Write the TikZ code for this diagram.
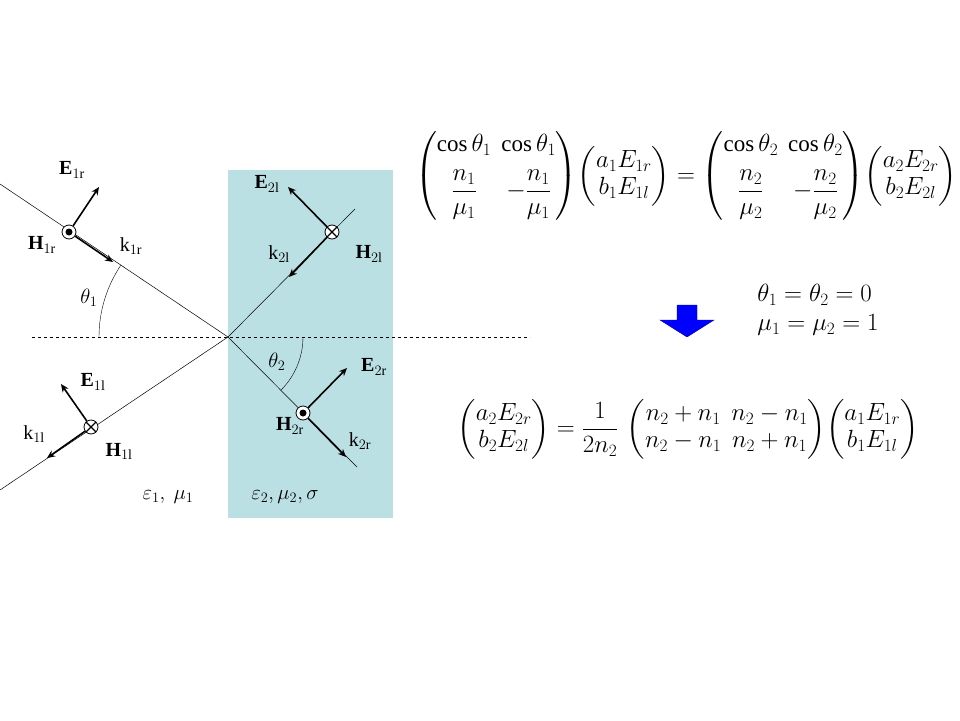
\documentclass[tikz,border=0pt]{standalone}
\usepackage{amsmath}
\usepackage{fontspec}
\setmainfont{Liberation Serif}
\usetikzlibrary{arrows.meta}
\definecolor{slab}{RGB}{187,224,228}
\tikzset{
  ray/.style={black,line width=0.5pt},
  vec/.style={black,line width=1.6pt,-{Stealth[length=8pt,width=7pt]}},
  fld/.style={draw,circle,fill=white,line width=0.8pt,minimum size=14pt,inner sep=0pt},
  lbl/.style={font=\fontsize{20}{24}\selectfont},
  eqn/.style={font=\fontsize{23}{27}\selectfont}
}
\begin{document}
\begin{tikzpicture}[x=1pt,y=-1pt]
            \useasboundingbox (0,0) rectangle (960,720);
            \fill[slab] (228,170) rectangle (393,518);
            \coordinate (O) at (228,337);
            \draw[dashed] (32,337) -- (530,337);
            % rays
            \draw[ray] (0,184) -- (O) -- (357,467);
            \draw[ray] (0,490) -- (O) -- (355,209);
            % field markers
            \node[fld] (H1r) at (69,232) {};
            \fill (H1r) circle (3.5);
            \node[fld] (H2r) at (303,413) {};
            \fill (H2r) circle (3.5);
            \node[fld] (H2l) at (332,232) {};
            \draw[line width=1.2pt] (H2l.north west) -- (H2l.south east) (H2l.north east) -- (H2l.south west);
            \node[fld] (H1l) at (91,427) {};
            \draw[line width=1.2pt] (H1l.north west) -- (H1l.south east) (H1l.north east) -- (H1l.south west);
            \coordinate (E1r) at (99,187);
            \coordinate (k1r) at (113,262);
            \coordinate (E2l) at (288,187);
            \coordinate (k2l) at (289,277);
            \coordinate (E1l) at (61,384);
            \coordinate (k1l) at (47,458);
            \coordinate (E2r) at (347,368);
            \coordinate (k2r) at (346,457);
            \draw[vec] (H1r) -- (E1r);
            \draw[vec] (H1r) -- (k1r);
            \draw[vec] (H2l) -- (E2l);
            \draw[vec] (H2l) -- (k2l);
            \draw[vec] (H1l) -- (E1l);
            \draw[vec] (H1l) -- (k1l);
            \draw[vec] (H2r) -- (E2r);
            \draw[vec] (H2r) -- (k2r);
            % angles
            \draw (99,337) arc[start angle=180,end angle=213.7,radius=129];
            \draw (303,337) arc[start angle=0,end angle=45,radius=75];
            % labels
            \node[lbl] (tE1r) at (72,170) {$\mathbf{E}_{1\text{r}}$};
            \node[lbl] (tH1r) at (42,245) {$\mathbf{H}_{1\text{r}}$};
            \node[lbl] (tk1r) at (131,246) {k$_{1\text{r}}$};
            \node[lbl] (tth1) at (89,298) {$\theta_1$};
            \node[lbl] (tE2l) at (267,184) {$\mathbf{E}_{2\text{l}}$};
            \node[lbl] (tk2l) at (279,254) {k$_{2\text{l}}$};
            \node[lbl] (tH2l) at (369,254) {$\mathbf{H}_{2\text{l}}$};
            \node[lbl] (tth2) at (277,362) {$\theta_2$};
            \node[lbl] (tE2r) at (374,367) {$\mathbf{E}_{2\text{r}}$};
            \node[lbl] (tE1l) at (93,382) {$\mathbf{E}_{1\text{l}}$};
            \node[lbl] (tH2r) at (290,426) {$\mathbf{H}_{2\text{r}}$};
            \node[lbl] (tk2r) at (360,441) {k$_{2\text{r}}$};
            \node[lbl] (tk1l) at (34,434) {k$_{1\text{l}}$};
            \node[lbl] (tH1l) at (119,451) {$\mathbf{H}_{1\text{l}}$};
            \node[lbl] (tm1) at (168,497) {$\varepsilon_1,\ \mu_1$};
            \node[lbl] (tm2) at (285,497) {$\varepsilon_2, \mu_2, \sigma$};
            % equations
            \node[eqn] (eq1) at (686,176) {$\begin{pmatrix}\cos\theta_1 & \cos\theta_1\\[10pt] \dfrac{n_1}{\mu_1} & -\dfrac{n_1}{\mu_1}\end{pmatrix}\!\begin{pmatrix}a_1E_{1r}\\ b_1E_{1l}\end{pmatrix}=\begin{pmatrix}\cos\theta_2 & \cos\theta_2\\[10pt] \dfrac{n_2}{\mu_2} & -\dfrac{n_2}{\mu_2}\end{pmatrix}\!\begin{pmatrix}a_2E_{2r}\\ b_2E_{2l}\end{pmatrix}$};
            \node[eqn,align=left] (eq2) at (818,310) {$\theta_1=\theta_2=0$\\[2pt] $\mu_1=\mu_2=1$};
            \node[eqn] (eq3) at (688,429) {$\begin{pmatrix}a_2E_{2r}\\ b_2E_{2l}\end{pmatrix}=\dfrac{1}{2n_2}\,\begin{pmatrix}n_2+n_1 & n_2-n_1\\ n_2-n_1 & n_2+n_1\end{pmatrix}\!\begin{pmatrix}a_1E_{1r}\\ b_1E_{1l}\end{pmatrix}$};
            \fill[blue,draw=blue!60!black] (677,305) -- (697,305) -- (697,320) -- (714,320)
                -- (687,337) -- (660,320) -- (677,320) -- cycle;
\end{tikzpicture}
\end{document}
